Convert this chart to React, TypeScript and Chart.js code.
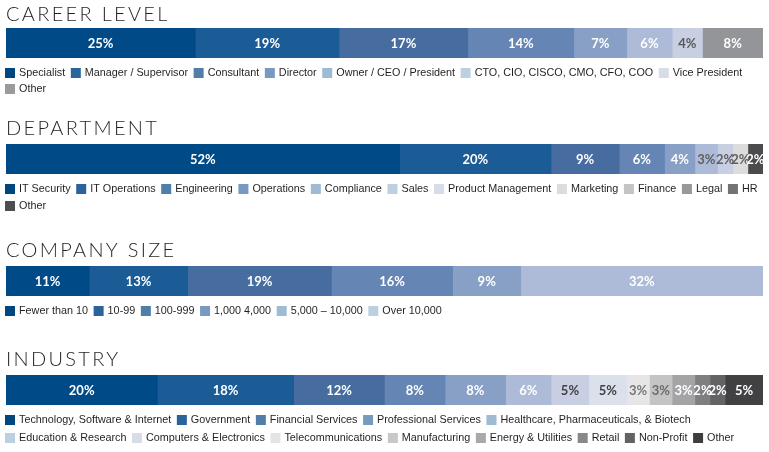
import React, { useEffect, useRef } from "react";
import { Chart, registerables } from "chart.js";

Chart.register(...registerables);

// ---------- CAREER LEVEL ----------
const careerValues = [25, 19, 17, 14, 7, 6, 4, 8];
const careerBarColors = ["#004a87", "#1b5b96", "#466ca0", "#6585b4", "#88a0c6", "#adbad8", "#c8cfe3", "#949599"];
const careerValueTextColors = ["#ffffff", "#ffffff", "#ffffff", "#ffffff", "#ffffff", "#ffffff", "#58595b", "#ffffff"];
const careerLegendLabels = [
  "Specialist",
  "Manager / Supervisor",
  "Consultant",
  "Director",
  "Owner / CEO / President",
  "CTO, CIO, CISCO, CMO, CFO, COO",
  "Vice President",
  "Other",
];
const careerLegendColors = ["#00467f", "#2b649b", "#4e7ea9", "#789ac0", "#9fbad3", "#bdd0e1", "#d6dce8", "#9a9a9c"];

// ---------- DEPARTMENT ----------
const departmentValues = [52, 20, 9, 6, 4, 3, 2, 2, 2];
const departmentBarColors = ["#004a87", "#1b5b96", "#466ca0", "#6585b4", "#88a0c6", "#adbad8", "#c8cfe3", "#dcdcdd", "#4b4a4c"];
const departmentValueTextColors = ["#ffffff", "#ffffff", "#ffffff", "#ffffff", "#ffffff", "#5f6062", "#5f6062", "#5f6062", "#ffffff"];
const departmentLegendLabels = [
  "IT Security",
  "IT Operations",
  "Engineering",
  "Operations",
  "Compliance",
  "Sales",
  "Product Management",
  "Marketing",
  "Finance",
  "Legal",
  "HR",
  "Other",
];
const departmentLegendColors = ["#00467f", "#2b649b", "#4e7ea9", "#789ac0", "#9fbad3", "#bdd0e1", "#d6dce8", "#dcdcde", "#c4c4c6", "#98989a", "#737375", "#4d4d4f"];

// ---------- COMPANY SIZE ----------
const companyValues = [11, 13, 19, 16, 9, 32];
const companyBarColors = ["#004a87", "#1b5b96", "#466ca0", "#6585b4", "#88a0c6", "#adbad8"];
const companyValueTextColors = ["#ffffff", "#ffffff", "#ffffff", "#ffffff", "#ffffff", "#ffffff"];
const companyLegendLabels = ["Fewer than 10", "10-99", "100-999", "1,000 4,000", "5,000 – 10,000", "Over 10,000"];
const companyLegendColors = ["#00467f", "#2b649b", "#4e7ea9", "#789ac0", "#9fbad3", "#bdd0e1"];

// ---------- INDUSTRY ----------
const industryValues = [20, 18, 12, 8, 8, 6, 5, 5, 3, 3, 3, 2, 2, 5];
const industryBarColors = [
  "#004a87", "#1b5b96", "#466ca0", "#6585b4", "#88a0c6", "#adbad8", "#c8cfe3",
  "#dbe1eb", "#e6e6e7", "#c4c4c5", "#a4a4a6", "#7f7f82", "#636366", "#414042",
];
const industryValueTextColors = [
  "#ffffff", "#ffffff", "#ffffff", "#ffffff", "#ffffff", "#ffffff", "#414042",
  "#414042", "#77787b", "#6a6b6e", "#ffffff", "#ffffff", "#ffffff", "#ffffff",
];
const industryLegendLabels = [
  "Technology, Software & Internet",
  "Government",
  "Financial Services",
  "Professional Services",
  "Healthcare, Pharmaceuticals, & Biotech",
  "Education & Research",
  "Computers & Electronics",
  "Telecommunications",
  "Manufacturing",
  "Energy & Utilities",
  "Retail",
  "Non-Profit",
  "Other",
];
const industryLegendColors = [
  "#00467f", "#2b649b", "#4e7ea9", "#789ac0", "#9fbad3", "#bdd0e1", "#d6dce8",
  "#e4e4e6", "#c8c8ca", "#a9a9ab", "#88888a", "#636365", "#3e3e40",
];

type SectionSpec = {
  title: string;
  values: number[];
  barColors: string[];
  valueTextColors: string[];
  legendLabels: string[];
  legendColors: string[];
  // layout
  canvasTop: number;
  canvasHeight: number;
  padTop: number;
  titleGap: number;
  legendOffset: number;
  legendRowGap: number;
};

const sections: SectionSpec[] = [
  {
    title: "CAREER LEVEL",
    values: careerValues,
    barColors: careerBarColors,
    valueTextColors: careerValueTextColors,
    legendLabels: careerLegendLabels,
    legendColors: careerLegendColors,
    canvasTop: 0,
    canvasHeight: 104,
    padTop: 28,
    titleGap: 7,
    legendOffset: 15,
    legendRowGap: 16,
  },
  {
    title: "DEPARTMENT",
    values: departmentValues,
    barColors: departmentBarColors,
    valueTextColors: departmentValueTextColors,
    legendLabels: departmentLegendLabels,
    legendColors: departmentLegendColors,
    canvasTop: 110,
    canvasHeight: 110,
    padTop: 34,
    titleGap: 9,
    legendOffset: 15,
    legendRowGap: 17,
  },
  {
    title: "COMPANY SIZE",
    values: companyValues,
    barColors: companyBarColors,
    valueTextColors: companyValueTextColors,
    legendLabels: companyLegendLabels,
    legendColors: companyLegendColors,
    canvasTop: 230,
    canvasHeight: 100,
    padTop: 36,
    titleGap: 9,
    legendOffset: 15,
    legendRowGap: 17,
  },
  {
    title: "INDUSTRY",
    values: industryValues,
    barColors: industryBarColors,
    valueTextColors: industryValueTextColors,
    legendLabels: industryLegendLabels,
    legendColors: industryLegendColors,
    canvasTop: 340,
    canvasHeight: 112,
    padTop: 35,
    titleGap: 9,
    legendOffset: 14.5,
    legendRowGap: 18,
  },
];

const BAR_HEIGHT = 30;
const CANVAS_WIDTH = 769;

function makeDecorPlugin(spec: SectionSpec) {
  return {
    id: "sectionDecor",
    afterDatasetsDraw(chart: any) {
      const ctx: CanvasRenderingContext2D = chart.ctx;
      ctx.save();
      ctx.font = "bold 13px Lato, 'Open Sans', sans-serif";
      ctx.textAlign = "center";
      ctx.textBaseline = "middle";
      spec.values.forEach((v, i) => {
        const el = chart.getDatasetMeta(i).data[0];
        if (!el) return;
        const { x, base, y } = el.getProps(["x", "base", "y"], true);
        ctx.fillStyle = spec.valueTextColors[i];
        ctx.fillText(`${v}%`, (x + base) / 2, y + 0.5);
      });
      ctx.restore();
    },
    afterDraw(chart: any) {
      const ctx: CanvasRenderingContext2D = chart.ctx;
      const area = chart.chartArea;
      ctx.save();
      // title
      ctx.font = "300 20px Lato, 'Open Sans', sans-serif";
      (ctx as any).letterSpacing = "2.3px";
      ctx.fillStyle = "#231f20";
      ctx.textAlign = "left";
      ctx.textBaseline = "alphabetic";
      ctx.fillText(spec.title, 6, area.top - spec.titleGap);
      (ctx as any).letterSpacing = "0px";
      // legend
      ctx.font = "10.8px 'Liberation Sans', Arial, sans-serif";
      ctx.textBaseline = "middle";
      const startX = 5;
      const box = 10;
      const textOffset = 14;
      const gap = 5.6;
      const limit = CANVAS_WIDTH - 1;
      let x = startX;
      let y = area.bottom + spec.legendOffset;
      spec.legendLabels.forEach((label, i) => {
        const w = ctx.measureText(label).width;
        const itemW = textOffset + w;
        if (x > startX && x + itemW > limit) {
          x = startX;
          y += spec.legendRowGap;
        }
        ctx.fillStyle = spec.legendColors[i];
        ctx.fillRect(x, Math.round(y - box / 2), box, box);
        ctx.fillStyle = "#231f20";
        ctx.fillText(label, x + textOffset, y + 0.5);
        x += itemW + gap;
      });
      ctx.restore();
    },
  };
}

function BarSection({ spec }: { spec: SectionSpec }) {
  const ref = useRef<HTMLCanvasElement | null>(null);
  useEffect(() => {
    const canvas = ref.current;
    if (!canvas) return;
    const total = spec.values.reduce((a, b) => a + b, 0);
    const chart = new Chart(canvas, {
      type: "bar",
      data: {
        labels: [spec.title],
        datasets: spec.values.map((v, i) => ({
          label: `${spec.title} ${i + 1}`,
          data: [v],
          backgroundColor: spec.barColors[i],
          borderWidth: 0,
          barPercentage: 1,
          categoryPercentage: 1,
        })),
      },
      options: {
        indexAxis: "y",
        animation: false,
        responsive: false,
        maintainAspectRatio: false,
        devicePixelRatio: 1,
        layout: {
          padding: {
            left: 6,
            right: 6,
            top: spec.padTop,
            bottom: spec.canvasHeight - spec.padTop - BAR_HEIGHT,
          },
        },
        scales: {
          x: { stacked: true, min: 0, max: total, display: false },
          y: { stacked: true, display: false },
        },
        plugins: {
          legend: { display: false },
          tooltip: { enabled: false },
          title: { display: false },
        },
      } as any,
      plugins: [makeDecorPlugin(spec) as any],
    });
    return () => chart.destroy();
  }, [spec]);
  return (
    <canvas
      ref={ref}
      width={CANVAS_WIDTH}
      height={spec.canvasHeight}
      style={{
        position: "absolute",
        left: 0,
        top: spec.canvasTop,
        width: CANVAS_WIDTH,
        height: spec.canvasHeight,
        display: "block",
      }}
    />
  );
}

export default function App() {
  useEffect(() => {
    document.body.style.margin = "0";
    document.body.style.overflow = "hidden";
    document.body.style.background = "#ffffff";
  }, []);
  return (
    <div style={{ position: "absolute", left: 0, top: 0, width: CANVAS_WIDTH, height: 452, background: "#ffffff" }}>
      {sections.map((s) => (
        <BarSection key={s.title} spec={s} />
      ))}
    </div>
  );
}
